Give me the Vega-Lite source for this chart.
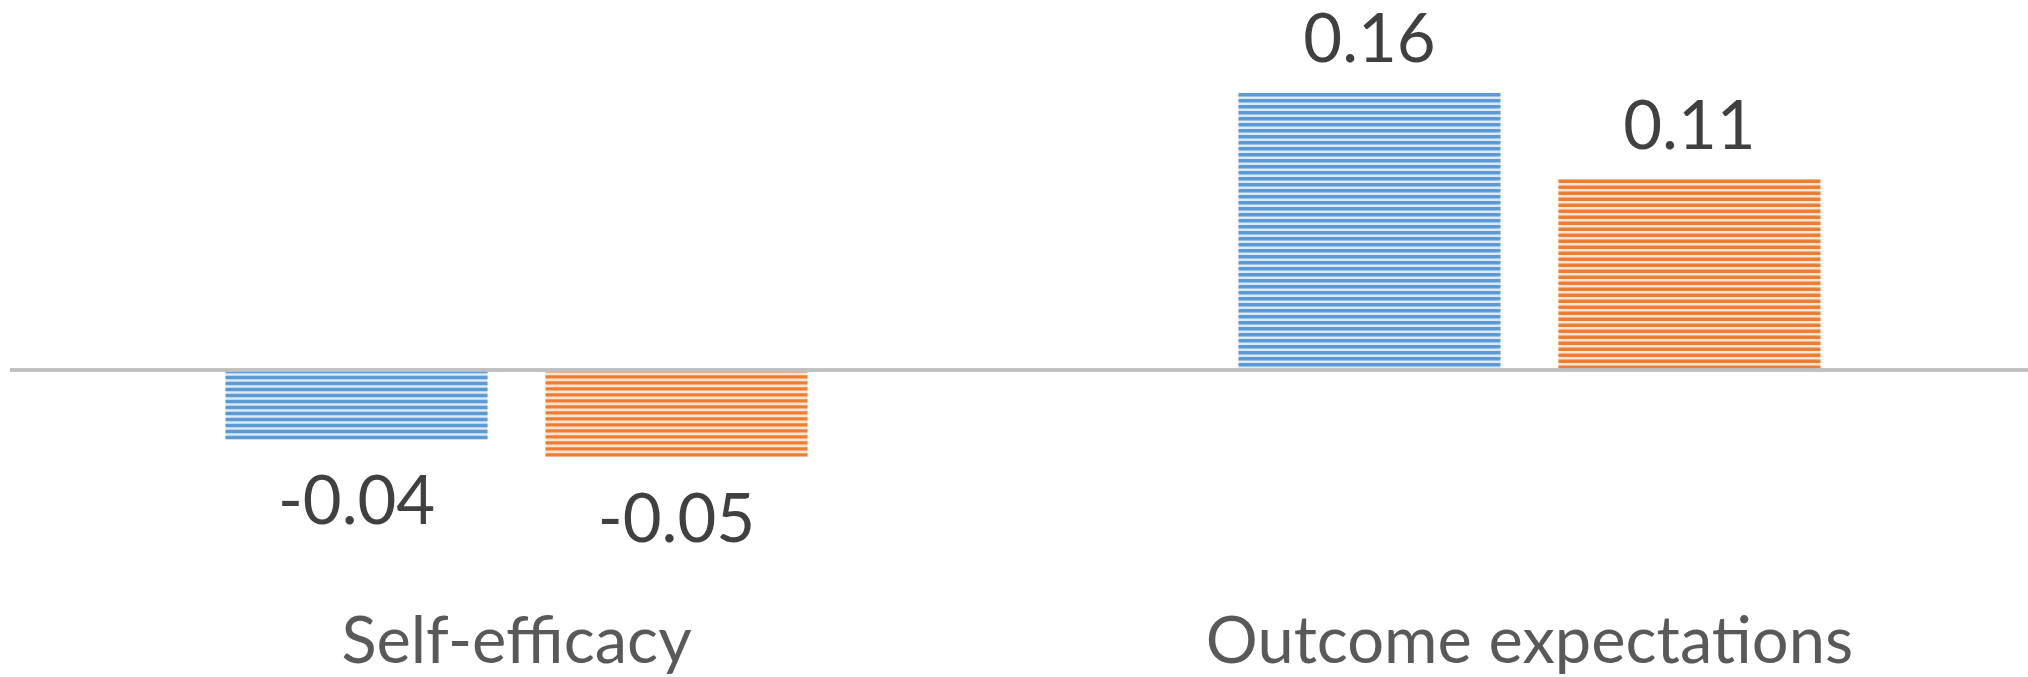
{
  "$schema": "https://vega.github.io/schema/vega-lite/v6.json",
  "width": 2026,
  "height": 600,
  "padding": {"left": 10, "top": 0, "right": 0, "bottom": 77},
  "autosize": {"type": "none"},
  "background": "white",
  "config": {
    "view": {"stroke": null},
    "font": "Lato",
    "locale": {
      "number": {"decimal": ".", "thousands": ",", "grouping": [3], "currency": ["$", ""], "minus": "-"}
    }
  },
  "data": {
    "values": [
      {"measure": "Self-efficacy", "series": "1", "value": -0.04},
      {"measure": "Self-efficacy", "series": "2", "value": -0.05},
      {"measure": "Outcome expectations", "series": "1", "value": 0.16},
      {"measure": "Outcome expectations", "series": "2", "value": 0.11}
    ]
  },
  "encoding": {
    "x": {
      "field": "measure",
      "type": "nominal",
      "sort": null,
      "scale": {"paddingInner": 0.4255, "paddingOuter": 0.2128},
      "axis": {
        "title": null,
        "domain": false,
        "ticks": false,
        "grid": false,
        "labelAngle": 0,
        "labelFont": "Lato",
        "labelFontSize": 65,
        "labelColor": "#595959",
        "labelPadding": 11,
        "labelLimit": 1000
      }
    },
    "xOffset": {
      "field": "series",
      "type": "nominal",
      "sort": null,
      "scale": {"paddingInner": 0.18125, "paddingOuter": 0}
    }
  },
  "layer": [
    {
      "mark": {"type": "bar", "strokeWidth": 0},
      "encoding": {
        "y": {
          "field": "value",
          "type": "quantitative",
          "scale": {"domain": [-0.13287, 0.21375], "nice": false, "zero": false},
          "axis": null
        },
        "y2": {"datum": 0},
        "fill": {
          "field": "series",
          "type": "nominal",
          "scale": {"range": ["#DDE9F6", "#FBE4D4"]},
          "legend": null
        }
      }
    },
    {
      "mark": {"type": "rule", "strokeWidth": 262, "strokeDash": [3.4, 2.6], "strokeCap": "butt"},
      "encoding": {
        "y": {"field": "value", "type": "quantitative"},
        "y2": {"datum": 0},
        "stroke": {
          "field": "series",
          "type": "nominal",
          "scale": {"range": ["#5B9BD5", "#ED7D31"]},
          "legend": null
        }
      }
    },
    {
      "mark": {"type": "rule", "color": "#BFBFBF", "strokeWidth": 3},
      "encoding": {"y": {"datum": 0}, "x": null, "xOffset": null}
    },
    {
      "transform": [{"filter": "datum.value >= 0"}],
      "mark": {"type": "text", "baseline": "alphabetic", "dy": -31, "fontSize": 67, "color": "#404040", "font": "Lato"},
      "encoding": {
        "y": {"field": "value", "type": "quantitative"},
        "text": {"field": "value", "type": "quantitative", "format": ".2f"}
      }
    },
    {
      "transform": [{"filter": "datum.value < 0"}],
      "mark": {"type": "text", "baseline": "top", "dy": 32, "fontSize": 67, "color": "#404040", "font": "Lato"},
      "encoding": {
        "y": {"field": "value", "type": "quantitative"},
        "text": {"field": "value", "type": "quantitative", "format": ".2f"}
      }
    }
  ]
}
